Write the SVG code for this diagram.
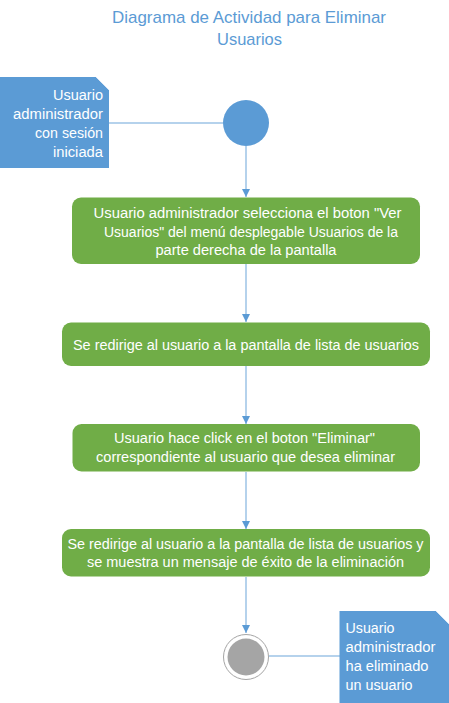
<svg xmlns="http://www.w3.org/2000/svg" width="449" height="703" viewBox="0 0 449 703">
<defs>
<style>
.title{font-family:"Liberation Sans",Arial,sans-serif;font-size:17px;fill:#5b9bd5;text-anchor:middle}
.t{font-family:"Liberation Sans",Arial,sans-serif;font-size:14px;fill:#ffffff}
.c{text-anchor:middle}
.r{text-anchor:end}
.act{fill:#70ad47}
.note{fill:#5b9bd5}
.fold{stroke:#dde9f6;stroke-width:1;fill:none}
.conn{stroke:#9dc3e6;stroke-width:1.5;fill:none}
.flow{stroke:#9dc3e6;stroke-width:1.5;fill:none;marker-end:url(#arr)}
</style>
<marker id="arr" viewBox="0 0 8 8" refX="8" refY="4" markerWidth="8" markerHeight="8" markerUnits="userSpaceOnUse" orient="auto">
<path d="M0,0 L8,4 L0,8 z" fill="#5b9bd5"/>
</marker>
</defs>
<rect width="449" height="703" fill="#ffffff"/>
<g id="title">
<text class="title" x="249" y="23" textLength="274" lengthAdjust="spacingAndGlyphs">Diagrama de Actividad para Eliminar</text>
<text class="title" x="249.5" y="45" textLength="65" lengthAdjust="spacingAndGlyphs">Usuarios</text>
</g>
<g id="connectors">
<line class="conn" x1="109" y1="123" x2="223" y2="123"/>
<line class="flow" x1="246" y1="146" x2="246" y2="197"/>
<line class="flow" x1="246" y1="264" x2="246" y2="322"/>
<line class="flow" x1="246" y1="366" x2="246" y2="424"/>
<line class="flow" x1="246" y1="472" x2="246" y2="529"/>
<line class="flow" x1="246" y1="577" x2="246" y2="633"/>
<line class="conn" x1="269" y1="656" x2="340" y2="656"/>
</g>
<g id="note-start">
<path class="note" d="M0,77 H96 L109,90 V168 H0 Z"/>
<line class="fold" x1="96" y1="77" x2="109" y2="90"/>
<text class="t r" x="103" y="100" textLength="50" lengthAdjust="spacingAndGlyphs">Usuario</text>
<text class="t r" x="103" y="119" textLength="90" lengthAdjust="spacingAndGlyphs">administrador</text>
<text class="t r" x="103" y="138" textLength="68" lengthAdjust="spacingAndGlyphs">con sesión</text>
<text class="t r" x="103" y="157" textLength="50" lengthAdjust="spacingAndGlyphs">iniciada</text>
</g>
<g id="start">
<circle cx="246" cy="123" r="23" fill="#5b9bd5"/>
</g>
<g id="act1">
<rect class="act" x="72" y="197.5" width="348" height="66.5" rx="9"/>
<text class="t c" x="247.5" y="218" textLength="308" lengthAdjust="spacingAndGlyphs">Usuario administrador selecciona el boton "Ver</text>
<text class="t c" x="251" y="237" textLength="294" lengthAdjust="spacingAndGlyphs">Usuarios" del menú desplegable Usuarios de la</text>
<text class="t c" x="246" y="255" textLength="181" lengthAdjust="spacingAndGlyphs">parte derecha de la pantalla</text>
</g>
<g id="act2">
<rect class="act" x="62" y="322.5" width="368" height="43.5" rx="9"/>
<text class="t c" x="246" y="349.5" textLength="346" lengthAdjust="spacingAndGlyphs">Se redirige al usuario a la pantalla de lista de usuarios</text>
</g>
<g id="act3">
<rect class="act" x="72.5" y="424" width="347.5" height="47.5" rx="9"/>
<text class="t c" x="244.5" y="443" textLength="261" lengthAdjust="spacingAndGlyphs">Usuario hace click en el boton "Eliminar"</text>
<text class="t c" x="245.5" y="462" textLength="299" lengthAdjust="spacingAndGlyphs">correspondiente al usuario que desea eliminar</text>
</g>
<g id="act4">
<rect class="act" x="62" y="529" width="368" height="47.5" rx="9"/>
<text class="t c" x="245.5" y="548.5" textLength="356" lengthAdjust="spacingAndGlyphs">Se redirige al usuario a la pantalla de lista de usuarios y</text>
<text class="t c" x="245.5" y="567" textLength="317" lengthAdjust="spacingAndGlyphs">se muestra un mensaje de éxito de la eliminación</text>
</g>
<g id="end">
<circle cx="246" cy="657" r="22.5" fill="#ffffff" stroke="#a5a5a5" stroke-width="1"/>
<circle cx="246" cy="657" r="18.5" fill="#a5a5a5"/>
</g>
<g id="note-end">
<path class="note" d="M339.5,611 H436 L449,624 V703 H339.5 Z"/>
<line class="fold" x1="436" y1="611" x2="449" y2="624"/>
<text class="t" x="345.5" y="633" textLength="49" lengthAdjust="spacingAndGlyphs">Usuario</text>
<text class="t" x="345.5" y="652" textLength="90" lengthAdjust="spacingAndGlyphs">administrador</text>
<text class="t" x="345.5" y="671" textLength="83" lengthAdjust="spacingAndGlyphs">ha eliminado</text>
<text class="t" x="345.5" y="690" textLength="67" lengthAdjust="spacingAndGlyphs">un usuario</text>
</g>
</svg>
